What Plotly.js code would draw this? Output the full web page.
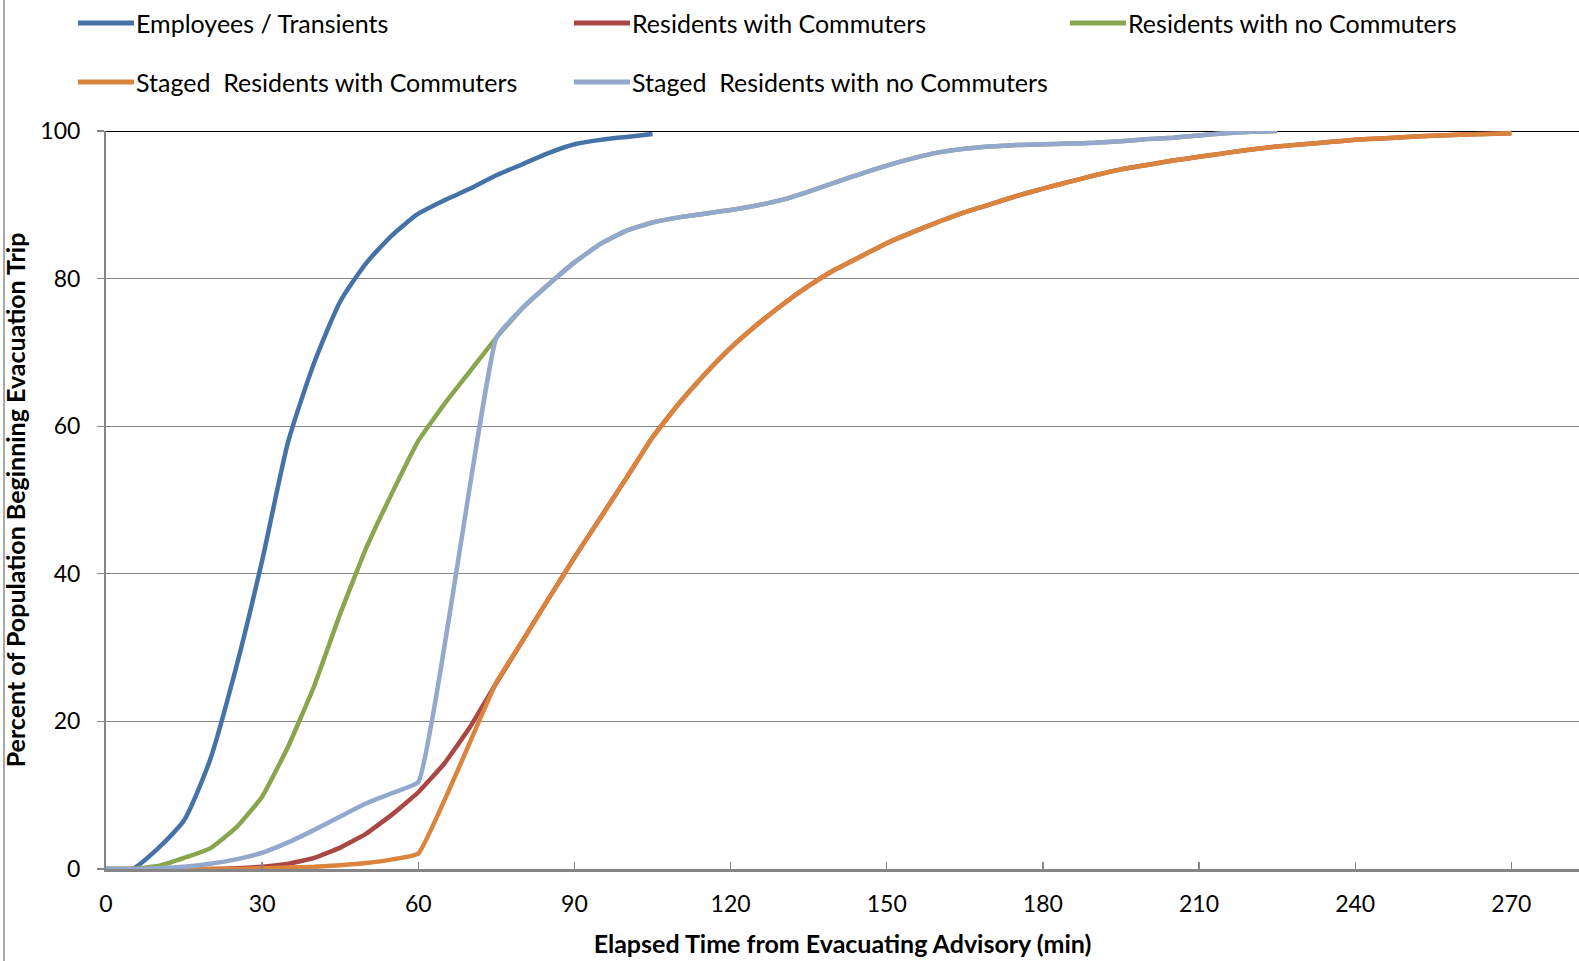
<!DOCTYPE html>
<html>
<head>
<meta charset="utf-8">
<script src="https://cdn.plot.ly/plotly-3.0.1.min.js"></script>
<style>
  html, body { margin: 0; padding: 0; background: #ffffff; }
  #chart { width: 1579px; height: 961px; }
</style>
</head>
<body>
<div id="chart"></div>
<script>
// ---- Data ----
const seriesNames = [
  "Employees / Transients",
  "Residents with Commuters",
  "Residents with no Commuters",
  "Staged\u00a0 Residents with Commuters",
  "Staged\u00a0 Residents with no Commuters"
];

const tEmployees = [0,5,10,15,20,25,30,35,40,45,50,55,60,65,70,75,80,85,90,95,100,105];
const vEmployees = [0,0,2.8,6.6,14.8,27.3,41.8,57.9,68.6,76.9,82.1,85.9,88.8,90.6,92.2,94,95.5,97,98.2,98.8,99.2,99.6];

const tResWithComm = [0,5,10,15,20,25,30,35,40,45,50,55,60,65,70,75,80,85,90,95,100,105,110,115,120,125,130,135,140,145,150,155,160,165,170,175,180,185,190,195,200,205,210,215,220,225,230,235,240,245,250,255,260,265,270];
const vResWithComm = [0,0,0,0,0,0.1,0.3,0.7,1.5,2.9,4.8,7.4,10.4,14.3,19.3,25.2,30.9,36.6,42.2,47.6,53,58.5,63,67,70.6,73.7,76.5,79,81.2,83,84.8,86.3,87.7,89,90.1,91.2,92.2,93.1,94,94.8,95.4,96,96.5,97,97.5,97.9,98.2,98.5,98.8,99,99.2,99.35,99.5,99.6,99.7];

const tResNoComm = [0,5,10,15,20,25,30,35,40,45,50,55,60,65,70,75,80,85,90,95,100,105,110,115,120,125,130,135,140,145,150,155,160,165,170,175,180,185,190,195,200,205,210,215,220,225];
const vResNoComm = [0,0,0.4,1.5,2.8,5.6,9.8,16.6,24.8,34.6,43.5,51,58,63,67.5,72,76,79.2,82.2,84.7,86.5,87.6,88.3,88.8,89.3,89.9,90.7,91.8,93,94.2,95.3,96.3,97.1,97.6,97.9,98.1,98.2,98.3,98.4,98.6,98.9,99.1,99.4,99.7,99.9,100];

const tStagedWithComm = [0,5,10,15,20,25,30,35,40,45,50,55,60,75,80,85,90,95,100,105,110,115,120,125,130,135,140,145,150,155,160,165,170,175,180,185,190,195,200,205,210,215,220,225,230,235,240,245,250,255,260,265,270];
const vStagedWithComm = [0,0,0,0,0,0,0.1,0.2,0.3,0.5,0.8,1.3,2.1,25.3,30.9,36.6,42.2,47.6,53,58.5,63,67,70.6,73.7,76.5,79,81.2,83,84.8,86.3,87.7,89,90.1,91.2,92.2,93.1,94,94.8,95.4,96,96.5,97,97.5,97.9,98.2,98.5,98.8,99,99.2,99.35,99.5,99.6,99.7];

const tStagedNoComm = [0,5,10,15,20,25,30,35,40,45,50,55,60,75,80,85,90,95,100,105,110,115,120,125,130,135,140,145,150,155,160,165,170,175,180,185,190,195,200,205,210,215,220,225];
const vStagedNoComm = [0,0,0.1,0.3,0.7,1.3,2.2,3.6,5.3,7.1,8.9,10.3,11.8,72,76,79.2,82.2,84.7,86.5,87.6,88.3,88.8,89.3,89.9,90.7,91.8,93,94.2,95.3,96.3,97.1,97.6,97.9,98.1,98.2,98.3,98.4,98.6,98.9,99.1,99.4,99.7,99.9,100];

const xTickVals = [0,30,60,90,120,150,180,210,240,270];
const yTickVals = [0,20,40,60,80,100];

const xTitle = "Elapsed Time from Evacuating Advisory (min)";
const yTitle = "Percent of Population Beginning Evacuation Trip";

// ---- Styles ----
const colors = ["#4572A7", "#AA4643", "#89A54E", "#DB843D", "#92A8CD"];
const smooth = [0.6, 0.35, 0.35, 0.35, 0.35];
const xs = [tEmployees, tResWithComm, tResNoComm, tStagedWithComm, tStagedNoComm];
const ys = [vEmployees, vResWithComm, vResNoComm, vStagedWithComm, vStagedNoComm];

const W = 1579, H = 961;
const M = {l: 106, r: 0, t: 131, b: 92};
const PW = W - M.l - M.r, PH = H - M.t - M.b;
const px = X => (X - M.l) / PW;
const py = Y => (H - M.b - Y) / PH;
const FONT = "Lato, sans-serif";

const traces = seriesNames.map((name, i) => ({
  type: "scatter",
  mode: "lines",
  name: name,
  x: xs[i],
  y: ys[i],
  line: {color: colors[i], width: 4.5, shape: "spline", smoothing: smooth[i]},
  showlegend: false,
  hoverinfo: "x+y+name"
}));

// Custom legend (positions in px converted to paper coords)
const legendCols = [78, 574, 1070];
const legendRows = [23, 82];
const shapes = [];
const annotations = [];
seriesNames.forEach((name, i) => {
  const col = i % 3, row = Math.floor(i / 3);
  const X0 = legendCols[col], Y0 = legendRows[row];
  shapes.push({
    type: "line", xref: "paper", yref: "paper",
    x0: px(X0), x1: px(X0 + 56), y0: py(Y0), y1: py(Y0),
    line: {color: colors[i], width: 5}, layer: "above"
  });
  annotations.push({
    xref: "paper", yref: "paper", x: px(X0 + 56), y: py(Y0),
    xanchor: "left", yanchor: "middle", showarrow: false,
    text: name, font: {family: FONT, size: 25, color: "#000000"}
  });
});

// Black line at 100 and outer frame on the left
shapes.push({
  type: "line", xref: "paper", yref: "y", x0: 0, x1: 1, y0: 100, y1: 100,
  line: {color: "#000000", width: 2}, layer: "below"
});
shapes.push({
  type: "line", xref: "paper", yref: "paper", x0: px(4), x1: px(4), y0: py(0), y1: py(H),
  line: {color: "#8c8c8c", width: 1.5}
});

const layout = {
  width: W, height: H,
  margin: M,
  paper_bgcolor: "#ffffff",
  plot_bgcolor: "#ffffff",
  font: {family: FONT, size: 23, color: "#000000"},
  xaxis: {
    range: [0, 283],
    tickvals: xTickVals,
    ticktext: xTickVals.map(String),
    ticks: "inside", ticklen: 7, tickwidth: 1.3, tickcolor: "#868686",
    showline: true, linecolor: "#868686", linewidth: 2.5,
    showgrid: false, zeroline: false,
    ticklabelstandoff: 13,
    tickfont: {family: FONT, size: 23, color: "#000000"},
    title: {text: xTitle, standoff: 20, font: {family: FONT, size: 25, color: "#000000", weight: "bold"}},
    fixedrange: true
  },
  yaxis: {
    range: [0, 100],
    tickvals: yTickVals,
    ticktext: yTickVals.map(String),
    ticks: "outside", ticklen: 7, tickwidth: 1.3, tickcolor: "#868686",
    showline: true, linecolor: "#868686", linewidth: 2,
    showgrid: true, gridcolor: "#868686", gridwidth: 1.4,
    zeroline: false,
    ticklabelstandoff: 12,
    tickfont: {family: FONT, size: 23, color: "#000000"},
    title: {text: yTitle, standoff: 11, font: {family: FONT, size: 25, color: "#000000", weight: "bold"}},
    fixedrange: true
  },
  shapes: shapes,
  annotations: annotations,
  showlegend: false
};

Plotly.newPlot("chart", traces, layout, {displayModeBar: false, staticPlot: true});
</script>
</body>
</html>
